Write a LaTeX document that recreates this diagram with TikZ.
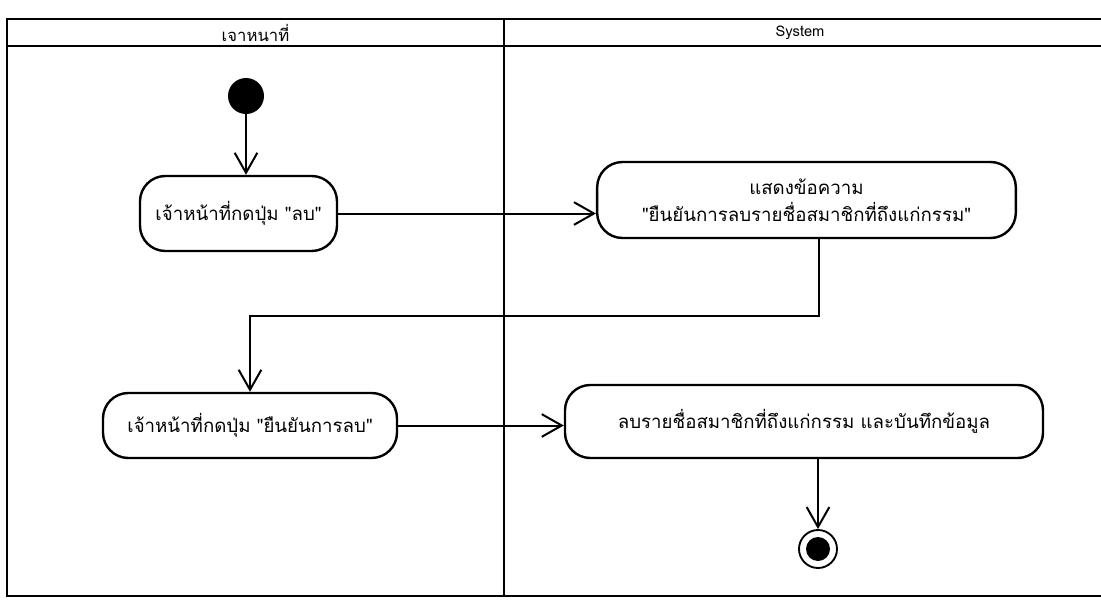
\documentclass[tikz,border=0pt]{standalone}
\usepackage{fontspec}
\newfontfamily\thaifont[Script=Thai]{Loma}
\usetikzlibrary{arrows.meta}

\tikzset{
  lane/.style={line width=2.2pt},
  action/.style={draw, line width=1.8pt, rounded corners=19pt, align=center, inner sep=0pt, font=\thaifont\fontsize{14}{20}\selectfont},
  flow/.style={line width=1.5pt, -{Straight Barb[length=15pt,width=17pt,line width=1.5pt]}},
  lanetitle/.style={inner sep=0.75pt, font=\thaifont\fontsize{11}{13}\selectfont}
}

\begin{document}
\begin{tikzpicture}[x=0.75pt,y=0.75pt,yscale=-1,xscale=1]
  \useasboundingbox (0,0) rectangle (1101,607);
  % swimlanes
  \draw[lane] (1101,19) -- (7,19) -- (7,596) -- (1101,596);
  \draw[lane] (7,46) -- (1101,46);
  \draw[lane] (504,19) -- (504,596);
  \node[lanetitle, font=\thaifont\fontsize{12.5}{15}\selectfont] (staff) at (255.5,33) {เจาหนาที่};
  \node[lanetitle] (system) at (800,33) {System};

  % start
  \node[circle, fill=black, minimum size=27pt, inner sep=0pt] (start) at (246,96) {};
  % actions
  \node[action, minimum width=147.75pt, minimum height=56.25pt] (press) at (238.5,213.5) {เจ้าหน้าที่กดปุ่ม "ลบ"};
  \node[action, minimum width=314pt, minimum height=57pt] (confirmmsg) at (806.5,200) {แสดงข้อความ\\"ยืนยันการลบรายชื่อสมาชิกที่ถึงแก่กรรม"};
  \node[action, minimum width=220.5pt, minimum height=48.75pt] (confirm) at (250,425.5) {เจ้าหน้าที่กดปุ่ม "ยืนยันการลบ"};
  \node[action, minimum width=358.5pt, minimum height=54.75pt] (delete) at (804,421.5) {ลบรายชื่อสมาชิกที่ถึงแก่กรรม และบันทึกข้อมูล};
  % end
  \node[circle, draw, line width=1.4pt, minimum size=28.5pt, inner sep=0pt,
        path picture={\fill (path picture bounding box.center) circle (9pt);}] (stop) at (818,549) {};

  % flows
  \draw[flow] (start) -- (start |- press.north);
  \draw[flow] (press.east) -- (press.east -| confirmmsg.west);
  \draw[flow] ([xshift=9pt]confirmmsg.south) -- ++(0,77) -| (confirm.north);
  \draw[flow] (confirm.east) -- (confirm.east -| delete.west);
  \draw[flow] (stop |- delete.south) -- (stop);
\end{tikzpicture}
\end{document}
